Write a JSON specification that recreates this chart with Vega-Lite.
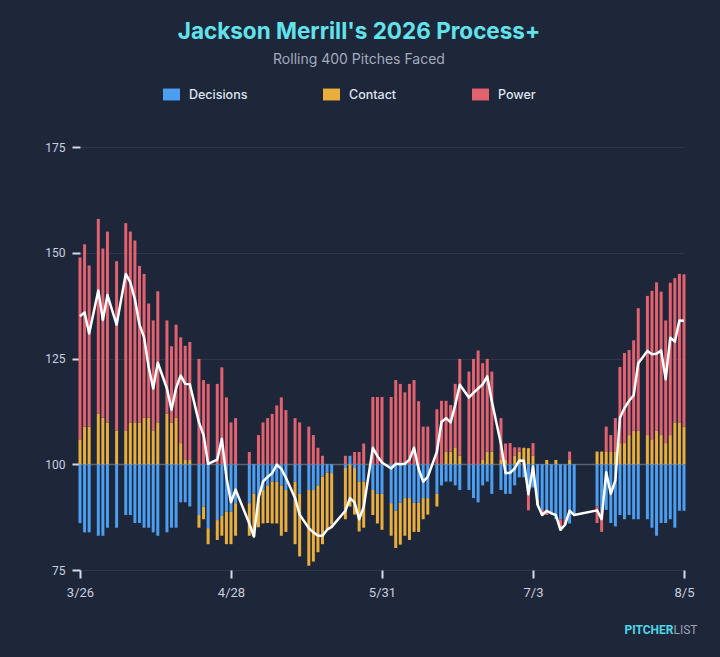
{
  "$schema": "https://vega.github.io/schema/vega-lite/v6.json",
  "width": 604,
  "height": 423,
  "autosize": {"type": "none"},
  "padding": {"left": 80, "top": 147, "right": 36, "bottom": 87},
  "background": "#1e263a",
  "config": {"view": {"stroke": null}, "font": "Roboto"},
  "title": {
    "text": "Jackson Merrill's 2026 Process+",
    "subtitle": "Rolling 400 Pitches Faced",
    "anchor": "middle",
    "frame": "group",
    "dx": -23,
    "dy": 1,
    "color": "#62e3ec",
    "font": "Inter",
    "fontSize": 22.5,
    "fontWeight": "bold",
    "subtitleColor": "#a3abbd",
    "subtitleFont": "Inter",
    "subtitleFontSize": 14,
    "subtitleFontWeight": "normal",
    "subtitlePadding": 10,
    "offset": 20
  },
  "datasets": {
    "ranks": [
      {"component": "Decisions", "rank": 1},
      {"component": "Contact", "rank": 2},
      {"component": "Power", "rank": 3}
    ],
    "games": [
      {"date": "2026-03-26", "Decisions": -13.9, "Contact": 5.9, "Power": 43.0, "process": 135.0},
      {"date": "2026-03-27", "Decisions": -16.1, "Contact": 8.9, "Power": 43.1, "process": 135.9},
      {"date": "2026-03-28", "Decisions": -16.1, "Contact": 8.9, "Power": 38.1, "process": 130.9},
      {"date": "2026-03-30", "Decisions": -16.9, "Contact": 12.0, "Power": 46.0, "process": 141.1},
      {"date": "2026-03-31", "Decisions": -16.9, "Contact": 11.0, "Power": 40.0, "process": 134.1},
      {"date": "2026-04-01", "Decisions": -15.0, "Contact": 9.9, "Power": 45.1, "process": 140.0},
      {"date": "2026-04-03", "Decisions": -15.0, "Contact": 8.0, "Power": 40.0, "process": 133.0},
      {"date": "2026-04-05", "Decisions": -12.0, "Contact": 8.0, "Power": 49.0, "process": 145.0},
      {"date": "2026-04-06", "Decisions": -12.0, "Contact": 9.9, "Power": 45.1, "process": 143.0},
      {"date": "2026-04-07", "Decisions": -13.9, "Contact": 9.9, "Power": 43.0, "process": 139.0},
      {"date": "2026-04-08", "Decisions": -13.9, "Contact": 9.9, "Power": 37.0, "process": 133.0},
      {"date": "2026-04-09", "Decisions": -15.0, "Contact": 11.0, "Power": 34.0, "process": 130.0},
      {"date": "2026-04-10", "Decisions": -15.0, "Contact": 11.0, "Power": 27.0, "process": 123.0},
      {"date": "2026-04-11", "Decisions": -16.1, "Contact": 8.0, "Power": 26.0, "process": 117.9},
      {"date": "2026-04-12", "Decisions": -16.9, "Contact": 9.9, "Power": 31.0, "process": 124.0},
      {"date": "2026-04-14", "Decisions": -16.1, "Contact": 12.0, "Power": 22.0, "process": 117.9},
      {"date": "2026-04-15", "Decisions": -15.0, "Contact": 9.9, "Power": 18.0, "process": 112.9},
      {"date": "2026-04-16", "Decisions": -15.0, "Contact": 11.0, "Power": 22.0, "process": 118.0},
      {"date": "2026-04-17", "Decisions": -9.0, "Contact": 5.0, "Power": 25.0, "process": 121.0},
      {"date": "2026-04-18", "Decisions": -9.0, "Contact": 1.0, "Power": 27.0, "process": 119.0},
      {"date": "2026-04-19", "Decisions": -10.0, "Contact": 1.0, "Power": 27.9, "process": 118.9},
      {"date": "2026-04-21", "Decisions": -12.0, "Contact": -3.0, "Power": 24.9, "process": 109.9},
      {"date": "2026-04-22", "Decisions": -10.0, "Contact": -3.0, "Power": 19.9, "process": 106.9},
      {"date": "2026-04-23", "Decisions": -15.1, "Contact": -3.8, "Power": 19.0, "process": 100.1},
      {"date": "2026-04-25", "Decisions": -13.2, "Contact": -4.7, "Power": 19.0, "process": 101.1},
      {"date": "2026-04-26", "Decisions": -12.2, "Contact": -4.7, "Power": 22.9, "process": 106.0},
      {"date": "2026-04-27", "Decisions": -11.2, "Contact": -7.7, "Power": 15.8, "process": 96.9},
      {"date": "2026-04-28", "Decisions": -11.2, "Contact": -7.7, "Power": 9.9, "process": 91.0},
      {"date": "2026-04-29", "Decisions": -9.2, "Contact": -7.7, "Power": 10.9, "process": 94.0},
      {"date": "2026-05-02", "Decisions": -9.2, "Contact": -7.7, "Power": 2.9, "process": 86.0},
      {"date": "2026-05-03", "Decisions": -6.9, "Contact": -10.2, "Power": 0, "process": 82.9},
      {"date": "2026-05-04", "Decisions": -8.0, "Contact": -6.9, "Power": 6.9, "process": 92.0},
      {"date": "2026-05-05", "Decisions": -6.1, "Contact": -7.9, "Power": 9.9, "process": 95.9},
      {"date": "2026-05-06", "Decisions": -5.0, "Contact": -8.9, "Power": 10.9, "process": 97.0},
      {"date": "2026-05-07", "Decisions": -4.1, "Contact": -9.9, "Power": 11.9, "process": 97.9},
      {"date": "2026-05-08", "Decisions": -4.1, "Contact": -9.9, "Power": 13.9, "process": 99.9},
      {"date": "2026-05-09", "Decisions": -5.0, "Contact": -11.9, "Power": 15.8, "process": 98.9},
      {"date": "2026-05-10", "Decisions": -6.1, "Contact": -9.9, "Power": 12.8, "process": 96.8},
      {"date": "2026-05-12", "Decisions": -4.1, "Contact": -14.8, "Power": 10.9, "process": 92.0},
      {"date": "2026-05-13", "Decisions": -7.0, "Contact": -14.8, "Power": 9.9, "process": 88.1},
      {"date": "2026-05-15", "Decisions": -6.1, "Contact": -17.9, "Power": 8.9, "process": 84.9},
      {"date": "2026-05-16", "Decisions": -6.1, "Contact": -16.9, "Power": 6.9, "process": 83.9},
      {"date": "2026-05-17", "Decisions": -5.0, "Contact": -15.8, "Power": 3.9, "process": 83.1},
      {"date": "2026-05-18", "Decisions": -2.9, "Contact": -16.0, "Power": 2.0, "process": 83.1},
      {"date": "2026-05-19", "Decisions": -2.0, "Contact": -13.5, "Power": 0, "process": 84.5},
      {"date": "2026-05-20", "Decisions": -2.1, "Contact": -12.1, "Power": -0.6, "process": 85.2},
      {"date": "2026-05-23", "Decisions": -0.9, "Contact": -12.1, "Power": 2.0, "process": 89.0},
      {"date": "2026-05-24", "Decisions": 2.0, "Contact": -10.0, "Power": 0, "process": 92.0},
      {"date": "2026-05-25", "Decisions": -0.9, "Contact": -11.0, "Power": 2.9, "process": 91.0},
      {"date": "2026-05-26", "Decisions": -4.1, "Contact": -11.8, "Power": 2.9, "process": 87.0},
      {"date": "2026-05-27", "Decisions": -4.1, "Contact": -10.9, "Power": 4.9, "process": 89.9},
      {"date": "2026-05-29", "Decisions": -6.1, "Contact": -5.9, "Power": 15.9, "process": 103.9},
      {"date": "2026-05-30", "Decisions": -7.0, "Contact": -7.0, "Power": 15.9, "process": 101.9},
      {"date": "2026-05-31", "Decisions": -7.0, "Contact": -8.5, "Power": 15.9, "process": 100.4},
      {"date": "2026-06-02", "Decisions": -9.2, "Contact": -7.7, "Power": 15.9, "process": 99.0},
      {"date": "2026-06-03", "Decisions": -11.0, "Contact": -8.8, "Power": 19.9, "process": 100.1},
      {"date": "2026-06-04", "Decisions": -9.1, "Contact": -9.9, "Power": 19.0, "process": 100.0},
      {"date": "2026-06-05", "Decisions": -8.0, "Contact": -8.9, "Power": 17.0, "process": 100.1},
      {"date": "2026-06-06", "Decisions": -8.0, "Contact": -9.9, "Power": 19.0, "process": 101.1},
      {"date": "2026-06-07", "Decisions": -9.1, "Contact": -6.9, "Power": 19.9, "process": 103.9},
      {"date": "2026-06-08", "Decisions": -9.1, "Contact": -6.9, "Power": 14.9, "process": 98.9},
      {"date": "2026-06-09", "Decisions": -8.0, "Contact": -5.0, "Power": 8.9, "process": 95.9},
      {"date": "2026-06-10", "Decisions": -8.0, "Contact": -3.9, "Power": 8.9, "process": 97.0},
      {"date": "2026-06-12", "Decisions": -7.0, "Contact": -3.0, "Power": 13.0, "process": 103.0},
      {"date": "2026-06-13", "Decisions": -5.0, "Contact": 0, "Power": 15.0, "process": 110.0},
      {"date": "2026-06-14", "Decisions": -4.1, "Contact": 3.0, "Power": 12.0, "process": 110.9},
      {"date": "2026-06-15", "Decisions": -4.1, "Contact": 3.0, "Power": 11.0, "process": 109.9},
      {"date": "2026-06-16", "Decisions": -5.0, "Contact": 4.0, "Power": 15.0, "process": 114.0},
      {"date": "2026-06-17", "Decisions": -6.1, "Contact": 2.0, "Power": 22.9, "process": 118.8},
      {"date": "2026-06-19", "Decisions": -6.1, "Contact": 0, "Power": 21.9, "process": 115.8},
      {"date": "2026-06-20", "Decisions": -8.0, "Contact": 0, "Power": 24.9, "process": 116.9},
      {"date": "2026-06-21", "Decisions": -9.0, "Contact": 0, "Power": 26.9, "process": 117.9},
      {"date": "2026-06-22", "Decisions": -5.0, "Contact": 1.0, "Power": 22.9, "process": 118.9},
      {"date": "2026-06-23", "Decisions": -4.1, "Contact": 3.0, "Power": 21.9, "process": 120.8},
      {"date": "2026-06-24", "Decisions": -7.0, "Contact": 3.0, "Power": 18.9, "process": 114.9},
      {"date": "2026-06-26", "Decisions": -6.1, "Contact": 1.0, "Power": 9.9, "process": 104.8},
      {"date": "2026-06-27", "Decisions": -7.0, "Contact": 1.0, "Power": 3.9, "process": 97.9},
      {"date": "2026-06-28", "Decisions": -7.0, "Contact": 0, "Power": 5.0, "process": 98.0},
      {"date": "2026-06-29", "Decisions": -5.0, "Contact": 2.0, "Power": 2.0, "process": 99.0},
      {"date": "2026-06-30", "Decisions": -3.1, "Contact": 3.0, "Power": 1.0, "process": 100.9},
      {"date": "2026-07-01", "Decisions": -3.1, "Contact": 3.9, "Power": 0, "process": 100.8},
      {"date": "2026-07-02", "Decisions": -7.2, "Contact": 3.8, "Power": -3.7, "process": 92.9},
      {"date": "2026-07-03", "Decisions": -5.5, "Contact": 2.0, "Power": 3.0, "process": 99.5},
      {"date": "2026-07-04", "Decisions": -8.4, "Contact": -1.2, "Power": 0, "process": 90.4},
      {"date": "2026-07-05", "Decisions": -10.8, "Contact": 0, "Power": -1.2, "process": 88.0},
      {"date": "2026-07-06", "Decisions": -10.8, "Contact": 1.0, "Power": -1.2, "process": 89.0},
      {"date": "2026-07-07", "Decisions": -11.6, "Contact": 0, "Power": 0, "process": 88.4},
      {"date": "2026-07-08", "Decisions": -13.0, "Contact": 1.0, "Power": 0, "process": 88.0},
      {"date": "2026-07-09", "Decisions": -13.0, "Contact": 0, "Power": -2.5, "process": 84.5},
      {"date": "2026-07-10", "Decisions": -13.0, "Contact": 0, "Power": -1.3, "process": 85.7},
      {"date": "2026-07-11", "Decisions": -14.0, "Contact": 1.0, "Power": 2.0, "process": 89.0},
      {"date": "2026-07-12", "Decisions": -12.0, "Contact": 0, "Power": 0, "process": 88.0},
      {"date": "2026-07-17", "Decisions": -10.0, "Contact": 3.0, "Power": -3.9, "process": 89.1},
      {"date": "2026-07-18", "Decisions": -11.0, "Contact": 3.0, "Power": -5.0, "process": 87.0},
      {"date": "2026-07-19", "Decisions": -10.8, "Contact": 2.9, "Power": 6.0, "process": 98.1},
      {"date": "2026-07-20", "Decisions": -13.9, "Contact": 2.9, "Power": 4.0, "process": 93.0},
      {"date": "2026-07-21", "Decisions": -14.7, "Contact": 2.9, "Power": 8.0, "process": 96.2},
      {"date": "2026-07-22", "Decisions": -12.0, "Contact": 5.0, "Power": 18.0, "process": 111.0},
      {"date": "2026-07-23", "Decisions": -13.0, "Contact": 5.0, "Power": 21.3, "process": 113.3},
      {"date": "2026-07-24", "Decisions": -12.0, "Contact": 6.9, "Power": 20.1, "process": 115.0},
      {"date": "2026-07-25", "Decisions": -13.0, "Contact": 7.9, "Power": 21.4, "process": 116.3},
      {"date": "2026-07-26", "Decisions": -13.0, "Contact": 7.9, "Power": 29.0, "process": 123.9},
      {"date": "2026-07-28", "Decisions": -13.0, "Contact": 6.9, "Power": 32.9, "process": 126.8},
      {"date": "2026-07-29", "Decisions": -15.0, "Contact": 5.9, "Power": 35.1, "process": 126.0},
      {"date": "2026-07-30", "Decisions": -16.9, "Contact": 7.9, "Power": 35.1, "process": 126.1},
      {"date": "2026-07-31", "Decisions": -13.9, "Contact": 6.9, "Power": 33.9, "process": 126.9},
      {"date": "2026-08-01", "Decisions": -13.9, "Contact": 5.0, "Power": 29.0, "process": 120.1},
      {"date": "2026-08-02", "Decisions": -13.0, "Contact": 6.9, "Power": 36.0, "process": 129.9},
      {"date": "2026-08-03", "Decisions": -15.0, "Contact": 9.9, "Power": 34.1, "process": 129.0},
      {"date": "2026-08-04", "Decisions": -11.0, "Contact": 9.9, "Power": 35.1, "process": 134.0},
      {"date": "2026-08-05", "Decisions": -11.0, "Contact": 8.9, "Power": 36.0, "process": 133.9}
    ]
  },
  "encoding": {
    "x": {
      "field": "date",
      "type": "temporal",
      "scale": {
        "type": "utc",
        "nice": false,
        "padding": 0,
        "domain": [
          {"year": 2026, "month": 3, "date": 26, "utc": true},
          {"year": 2026, "month": 8, "date": 5, "utc": true}
        ]
      },
      "axis": {
        "values": [
          {"year": 2026, "month": 3, "date": 26, "utc": true},
          {"year": 2026, "month": 4, "date": 28, "utc": true},
          {"year": 2026, "month": 5, "date": 31, "utc": true},
          {"year": 2026, "month": 7, "date": 3, "utc": true},
          {"year": 2026, "month": 8, "date": 5, "utc": true}
        ],
        "format": "%-m/%-d",
        "grid": false,
        "domain": false,
        "tickSize": 8,
        "tickWidth": 2,
        "tickColor": "#d5dbe8",
        "labelColor": "#c9cfdf",
        "labelFont": "Roboto",
        "labelFontSize": 13,
        "labelPadding": 8,
        "labelFlush": false,
        "labelOverlap": false,
        "labelBound": false,
        "title": "PITCHER",
        "titleX": 593,
        "titleY": 63,
        "titleAlign": "right",
        "titleBaseline": "alphabetic",
        "titleColor": "#4fd6e6",
        "titleFont": "Roboto",
        "titleFontSize": 12,
        "titleFontWeight": "bold"
      }
    }
  },
  "layer": [
    {
      "data": {"name": "games"},
      "transform": [
        {"fold": ["Decisions", "Contact", "Power"], "as": ["component", "delta"]},
        {"lookup": "component", "from": {"data": {"name": "ranks"}, "key": "component", "fields": ["rank"]}}
      ],
      "mark": {"type": "bar", "width": 3},
      "encoding": {
        "y": {
          "field": "delta",
          "type": "quantitative",
          "stack": "zero",
          "scale": {"domain": [-25, 75], "nice": false, "zero": false},
          "axis": {
            "orient": "right",
            "title": "LIST",
            "labels": false,
            "ticks": false,
            "domain": false,
            "grid": false,
            "titleAngle": 0,
            "titleX": -11,
            "titleY": 486,
            "titleAlign": "left",
            "titleBaseline": "alphabetic",
            "titleColor": "#9aa3b5",
            "titleFont": "Roboto",
            "titleFontSize": 12,
            "titleFontWeight": "normal"
          }
        },
        "color": {
          "field": "component",
          "type": "nominal",
          "scale": {"domain": ["Decisions", "Contact", "Power"], "range": ["#4c9ff0", "#e9ae3b", "#e2636f"]},
          "legend": {
            "orient": "none",
            "legendX": 83,
            "legendY": -61,
            "direction": "horizontal",
            "title": null,
            "symbolType": "M-1,-0.7H1V0.7H-1Z",
            "symbolSize": 289,
            "symbolStrokeWidth": 0,
            "symbolOpacity": 1,
            "labelFont": "Inter",
            "labelFontSize": 12.5,
            "labelFontWeight": 500,
            "labelColor": "#dfe4f0",
            "labelOffset": 9,
            "columnPadding": 75
          }
        },
        "order": {"field": "rank", "type": "quantitative", "sort": "ascending"}
      }
    },
    {
      "data": {"name": "games"},
      "mark": {"type": "line", "color": "#ffffff", "strokeWidth": 2.5, "strokeJoin": "round"},
      "encoding": {
        "y": {
          "field": "process",
          "type": "quantitative",
          "scale": {"domain": [75, 175], "nice": false, "zero": false},
          "axis": {
            "orient": "left",
            "values": [75, 100, 125, 150, 175],
            "title": null,
            "grid": true,
            "gridColor": {"condition": {"test": "datum.value === 100", "value": "#5a6276"}, "value": "#2d374c"},
            "gridWidth": {"condition": {"test": "datum.value === 100", "value": 1.5}, "value": 1},
            "domain": false,
            "tickSize": 8,
            "tickWidth": 2,
            "tickColor": "#d5dbe8",
            "labelColor": "#c9cfdf",
            "labelFont": "Roboto",
            "labelFontSize": 12,
            "labelPadding": 7
          }
        }
      }
    }
  ],
  "resolve": {"scale": {"y": "independent"}}
}
